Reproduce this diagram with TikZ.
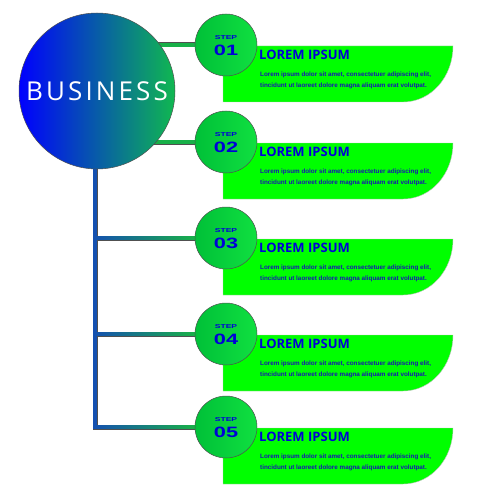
\documentclass[tikz,border=0pt]{standalone}
\usepackage{fontspec}
\setmainfont{Liberation Sans}
\newfontfamily\bizfont{Open Sans}[LetterSpace=12]
\newfontfamily\titlefont{Open Sans}
\usetikzlibrary{calc}
\definecolor{bizblue}{HTML}{0000FF}
\definecolor{bizgreen}{HTML}{10B850}
\definecolor{stepL}{HTML}{00C038}
\definecolor{stepR}{HTML}{10E040}
\definecolor{boxgreen}{HTML}{00FF00}
\definecolor{txtblue}{HTML}{0000D8}
\definecolor{bodyblue}{HTML}{1818B0}
\definecolor{trunk}{HTML}{1450B0}
\definecolor{linkgreen}{HTML}{18B048}
\definecolor{edge}{HTML}{505050}
\tikzset{
  bizcircle/.style={circle, minimum size=156pt, inner sep=0pt, draw=edge, line width=0.5pt,
    left color=bizblue, right color=bizgreen, text=white,
    font=\bizfont\fontsize{26}{26}\selectfont},
  stepcircle/.style={circle, minimum size=62pt, inner sep=0pt, draw=edge, line width=0.5pt,
    left color=stepL, right color=stepR},
  stepbox/.style={fill=boxgreen, draw=black!25, line width=0.4pt},
  steplabel/.style={inner sep=0pt, text=txtblue, font=\bfseries\fontsize{5.7}{5.7}\selectfont},
  stepnum/.style={inner sep=0pt, text=txtblue, font=\bfseries\fontsize{15}{15}\selectfont},
  titletext/.style={inner sep=0pt, anchor=west, text=txtblue, font=\titlefont\bfseries\fontsize{13}{13}\selectfont},
  bodytext/.style={inner sep=0pt, anchor=north west, align=left, text=bodyblue, font=\bfseries\fontsize{6.3}{11}\selectfont},
  outline/.style={draw=edge, line width=5pt},
  linkline/.style={draw=linkgreen, line width=3.6pt}
}
\begin{document}
\begin{tikzpicture}[x=1pt,y=-1pt]
\useasboundingbox (0,0) rectangle (500,500);
\path (97,91) node[circle, minimum size=156pt, inner sep=0pt] (bizpos) {};
\foreach \i/\c in {1/45,2/142,3/238,4/334,5/427}{
  \path (226,\c) node[circle, minimum size=62pt, inner sep=0pt] (p\i) {};
}
% trunk and branches outline
\draw[outline] ($(bizpos.south)+(-2,0)$) -- ($(bizpos.south |- p5)+(-2,0)$) -- (p5.west);
\draw[outline] ($(bizpos.south |- p3)+(-2,0)$) -- (p3.west);
\draw[outline] ($(bizpos.south |- p4)+(-2,0)$) -- (p4.west);
\draw[outline] (p1.west) -- (bizpos.center |- p1);
\draw[outline] (p2.west) -- (bizpos.center |- p2);
% fills
\fill[trunk] ($(bizpos.south)+(-3.8,0)$) rectangle ($(bizpos.south |- p5)+(-0.2,1.8)$);
\foreach \i in {3,4,5}{
  \shade[left color=trunk, right color=linkgreen]
    ($(bizpos.south |- p\i)+(-3.8,-1.8)$) rectangle ($(p\i.west)+(0,1.8)$);
}
\draw[linkline] (p1.west) -- (bizpos.center |- p1);
\draw[linkline] (p2.west) -- (bizpos.center |- p2);
% business circle
\node[bizcircle] (biz) at (bizpos) {BUSINESS};
% boxes, step circles, texts
\foreach \i/\c/\num in {1/45/01,2/142/02,3/238/03,4/334/04,5/427/05}{
  \pgfmathsetmacro{\top}{\c+1}
  \pgfmathsetmacro{\bot}{\c+57}
  \pgfmathsetmacro{\ca}{\c+32}
  \draw[stepbox] (223,\top) -- (453,\top)
     .. controls (453,\ca) and (431,\bot) .. (403,\bot) -- (223,\bot) -- cycle;
  \node[stepcircle] (s\i) at (226,\c) {};
  \node[steplabel] (sl\i) at ($(s\i.center)+(0,-7)$) {\scalebox{1.5}[1]{STEP}};
  \node[stepnum] (sn\i) at ($(s\i.center)+(0,5.5)$) {\scalebox{1.45}[1]{\num}};
  \node[titletext] (t\i) at (259,\c+10) {LOREM IPSUM};
  \node[bodytext] (b\i) at (260,\c+27) {Lorem ipsum dolor sit amet, consectetuer adipiscing elit,\\tincidunt ut laoreet dolore magna aliquam erat volutpat.};
}
\end{tikzpicture}
\end{document}
